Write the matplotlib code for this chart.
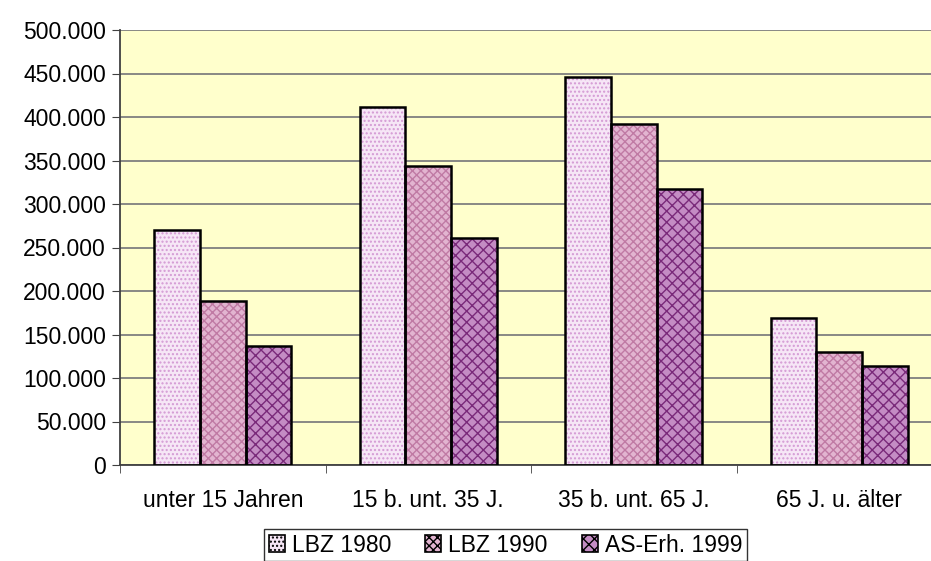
import matplotlib.pyplot as plt
import numpy as np
from matplotlib.ticker import FuncFormatter
from matplotlib.patches import Patch

categories = ['unter 15 Jahren', '15 b. unt. 35 J.', '35 b. unt. 65 J.', '65 J. u. älter']
series_names = ['LBZ 1980', 'LBZ 1990', 'AS-Erh. 1999']
lbz_1980 = [270000, 411000, 446000, 169000]
lbz_1990 = [188000, 344000, 392000, 130000]
as_1999 = [137000, 261000, 317000, 114000]

plt.rcParams['font.family'] = ['Liberation Sans', 'DejaVu Sans']
plt.rcParams['hatch.linewidth'] = 1.0

fig = plt.figure(figsize=(9.31, 5.61), dpi=100)
ax = fig.add_axes([120 / 931, 1 - 465 / 561, 822 / 931, 435 / 561])
ax.set_facecolor('#ffffcc')

fills = ['#f6e6f6', '#e2b4d0', '#c48cc4']
hatch_cols = ['#d49ad4', '#c07aa4', '#7a2a7a']
hatches = ['....', 'xxxx', 'xxx']
width = 0.223
x = np.arange(len(categories))
for i, vals in enumerate([lbz_1980, lbz_1990, as_1999]):
    pos = x + (i - 1) * width
    ax.bar(pos, vals, width, color=fills[i], edgecolor=hatch_cols[i], hatch=hatches[i],
           linewidth=0, zorder=2)
    ax.bar(pos, vals, width, facecolor='none', edgecolor='black', linewidth=1.8, zorder=3)

ax.set_xlim(-0.5, 3.5)
ax.set_ylim(0, 500000)
ax.set_yticks(np.arange(0, 500001, 50000))
ax.yaxis.set_major_formatter(FuncFormatter(lambda v, p: f'{int(v):,}'.replace(',', '.')))
ax.yaxis.grid(True, color='#7f7f7f', linewidth=1.3, zorder=1)
ax.set_axisbelow(True)

ax.set_xticks(x)
ax.set_xticklabels(categories)
ax.set_xticks(np.arange(-0.5, 3.6, 1), minor=True)
ax.tick_params(axis='x', which='major', length=0, pad=17, labelsize=16.5)
ax.tick_params(axis='x', which='minor', length=6, color='#404040')
ax.tick_params(axis='y', length=6, color='#404040', labelsize=16.5, pad=4)

for s in ['top', 'right']:
    ax.spines[s].set_visible(False)
ax.spines['left'].set_color('#404040')
ax.spines['bottom'].set_color('#404040')
ax.spines['left'].set_linewidth(1.3)
ax.spines['bottom'].set_linewidth(1.3)

handles = [Patch(facecolor=fills[i], edgecolor='black', hatch=hatches[i], linewidth=1.2)
           for i in range(3)]
leg = fig.legend(handles, series_names, loc='center', bbox_to_anchor=(505.5 / 931, 1 - 545 / 561),
                 ncol=3, frameon=True, fancybox=False, edgecolor='black', fontsize=16.5,
                 handlelength=0.7, handleheight=0.7, handletextpad=0.3, columnspacing=1.5,
                 borderpad=0.2)
leg.get_frame().set_linewidth(1.0)

fig.savefig('out.png', dpi=100)
